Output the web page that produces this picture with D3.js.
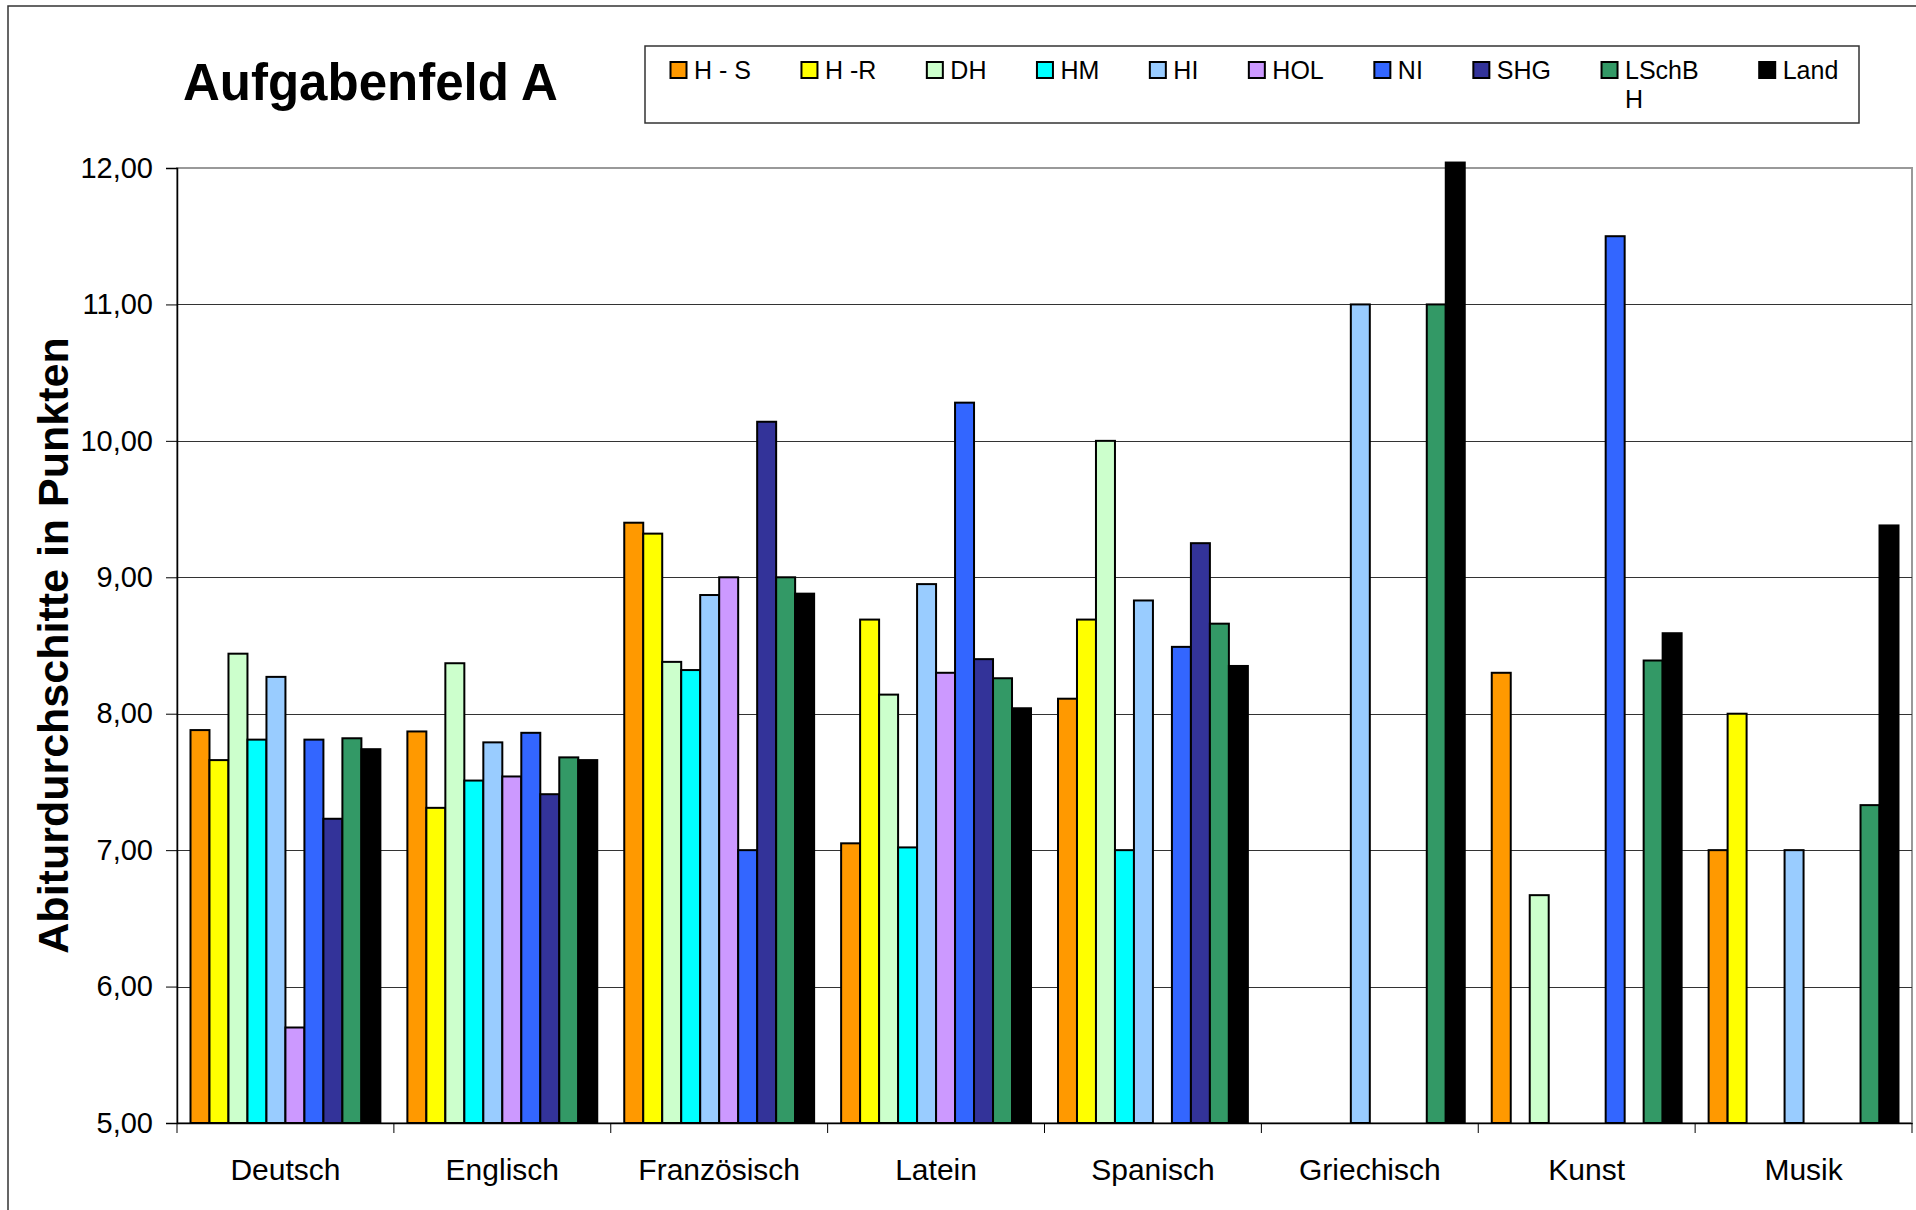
<!DOCTYPE html>
<html>
<head>
<meta charset="utf-8">
<script src="https://cdn.jsdelivr.net/npm/d3@7"></script>
<style>
  html, body { margin: 0; padding: 0; background: #fff; }
  svg { display: block; font-family: "Liberation Sans", Arial, Helvetica, sans-serif; }
</style>
</head>
<body>
<svg id="chart" width="1916" height="1210"></svg>
<script>
// ---- data ----
const categories = ["Deutsch", "Englisch", "Französisch", "Latein", "Spanisch", "Griechisch", "Kunst", "Musik"];
const seriesNames = ["H - S", "H -R", "DH", "HM", "HI", "HOL", "NI", "SHG", "LSchBH", "Land"];
const seriesColors = ["#FF9900", "#FFFF00", "#CCFFCC", "#00FFFF", "#99CCFF", "#CC99FF", "#3366FF", "#333399", "#339966", "#000000"];

const valuesHS     = [7.88, 7.87, 9.40, 7.05, 8.11, null, 8.30, 7.00];
const valuesHR     = [7.66, 7.31, 9.32, 8.69, 8.69, null, null, 8.00];
const valuesDH     = [8.44, 8.37, 8.38, 8.14, 10.00, null, 6.67, null];
const valuesHM     = [7.81, 7.51, 8.32, 7.02, 7.00, null, null, null];
const valuesHI     = [8.27, 7.79, 8.87, 8.95, 8.83, 11.00, null, 7.00];
const valuesHOL    = [5.70, 7.54, 9.00, 8.30, null, null, null, null];
const valuesNI     = [7.81, 7.86, 7.00, 10.28, 8.49, null, 11.50, null];
const valuesSHG    = [7.23, 7.41, 10.14, 8.40, 9.25, null, null, null];
const valuesLSchBH = [7.82, 7.68, 9.00, 8.26, 8.66, 11.00, 8.39, 7.33];
const valuesLand   = [7.74, 7.66, 8.88, 8.04, 8.35, 12.04, 8.59, 9.38];

const yTicks = [5, 6, 7, 8, 9, 10, 11, 12];
const titleText = "Aufgabenfeld A";
const yAxisTitle = "Abiturdurchschitte in Punkten";

const seriesValues = [valuesHS, valuesHR, valuesDH, valuesHM, valuesHI, valuesHOL, valuesNI, valuesSHG, valuesLSchBH, valuesLand];

// ---- layout ----
const svg = d3.select("#chart");
const plot = { left: 177, right: 1912, top: 168, bottom: 1123 };

// outer frame
svg.append("rect").attr("x", 8).attr("y", 6).attr("width", 2000).attr("height", 2000)
  .attr("fill", "none").attr("stroke", "#333").attr("stroke-width", 1.5);

const x0 = d3.scaleBand().domain(categories).range([plot.left, plot.right]).padding(0);
const groupPad = 13.5;
const x1 = d3.scaleBand().domain(seriesNames).range([groupPad, x0.bandwidth() - groupPad]).padding(0);
const y = d3.scaleLinear().domain([5, 12]).range([plot.bottom, plot.top]);

// plot area border
svg.append("rect").attr("x", plot.left).attr("y", plot.top)
  .attr("width", plot.right - plot.left).attr("height", plot.bottom - plot.top)
  .attr("fill", "none").attr("stroke", "#999").attr("stroke-width", 2);

// gridlines
svg.append("g").selectAll("line").data(yTicks.filter(t => t > 5 && t < 12)).join("line")
  .attr("x1", plot.left).attr("x2", plot.right)
  .attr("y1", d => Math.round(y(d)) + 0.5).attr("y2", d => Math.round(y(d)) + 0.5)
  .attr("stroke", "#333").attr("stroke-width", 1);

// bars
const groups = svg.append("g").selectAll("g").data(categories).join("g")
  .attr("transform", d => `translate(${x0(d)},0)`);

groups.selectAll("rect")
  .data((c, ci) => seriesNames.map((s, si) => ({ s, si, v: seriesValues[si][ci] })).filter(d => d.v !== null))
  .join("rect")
  .attr("x", d => x1(d.s))
  .attr("y", d => y(d.v))
  .attr("width", x1.bandwidth())
  .attr("height", d => y(5) - y(d.v))
  .attr("fill", d => seriesColors[d.si])
  .attr("stroke", "#000")
  .attr("stroke-width", 2);

// y axis
const yAxis = d3.axisLeft(y).tickValues(yTicks).tickSize(11).tickPadding(13)
  .tickFormat(d => d3.format(".2f")(d).replace(".", ","));
const gy = svg.append("g").attr("transform", `translate(${plot.left},0)`).call(yAxis);
gy.select(".domain").attr("stroke", "#000").attr("stroke-width", 1.5);
gy.selectAll(".tick line").attr("stroke", "#000");
gy.selectAll(".tick text").attr("font-size", 29).attr("fill", "#000")
  .attr("font-family", "'Liberation Sans', Arial, sans-serif");

// x axis
const xAxis = d3.axisBottom(x0).tickSize(0).tickPadding(0).tickSizeOuter(0);
const gx = svg.append("g").attr("transform", `translate(0,${plot.bottom})`).call(xAxis);
gx.select(".domain").attr("stroke", "#000").attr("stroke-width", 1.5);
gx.selectAll(".tick text").attr("font-size", 30).attr("fill", "#000").attr("dy", 0).attr("y", 57)
  .attr("font-family", "'Liberation Sans', Arial, sans-serif");
// boundary ticks between categories
const boundaries = categories.map(c => x0(c)).concat([plot.right]);
gx.append("g").selectAll("line").data(boundaries).join("line")
  .attr("x1", d => d).attr("x2", d => d).attr("y1", 0).attr("y2", 10)
  .attr("stroke", "#000").attr("stroke-width", 1);

// axis title
svg.append("text")
  .attr("transform", `translate(68,${(plot.top + plot.bottom) / 2}) rotate(-90)`)
  .attr("text-anchor", "middle").attr("font-size", 43).attr("font-weight", "bold")
  .text(yAxisTitle);

// chart title
svg.append("text").attr("x", 183).attr("y", 100)
  .attr("font-size", 51).attr("font-weight", "bold").text(titleText);

// legend
const legend = svg.append("g");
legend.append("rect").attr("x", 645).attr("y", 46).attr("width", 1214).attr("height", 77)
  .attr("fill", "#fff").attr("stroke", "#333").attr("stroke-width", 1.5);

let lx = 670;
const maxLabelW = 82;
seriesNames.forEach((name, i) => {
  const item = legend.append("g").attr("transform", `translate(${lx},0)`);
  item.append("rect").attr("x", 0.5).attr("y", 62).attr("width", 16).attr("height", 16)
    .attr("fill", seriesColors[i]).attr("stroke", "#000").attr("stroke-width", 2);
  const t = item.append("text").attr("x", 24).attr("y", 79).attr("font-size", 25);
  // simple character-wrapping
  const probe = item.append("text").attr("font-size", 25).attr("visibility", "hidden");
  let lines = [], cur = "";
  for (const ch of name) {
    probe.text(cur + ch);
    if (probe.node().getComputedTextLength() > maxLabelW && cur.length) { lines.push(cur); cur = ch; }
    else cur += ch;
  }
  lines.push(cur);
  probe.remove();
  lines.forEach((ln, li) => t.append("tspan").attr("x", 24).attr("dy", li ? 29 : 0).text(ln));
  const w = t.node().getBBox().width;
  lx += 24 + w + (lines.length > 1 ? 60 : 50);
});
</script>
</body>
</html>
